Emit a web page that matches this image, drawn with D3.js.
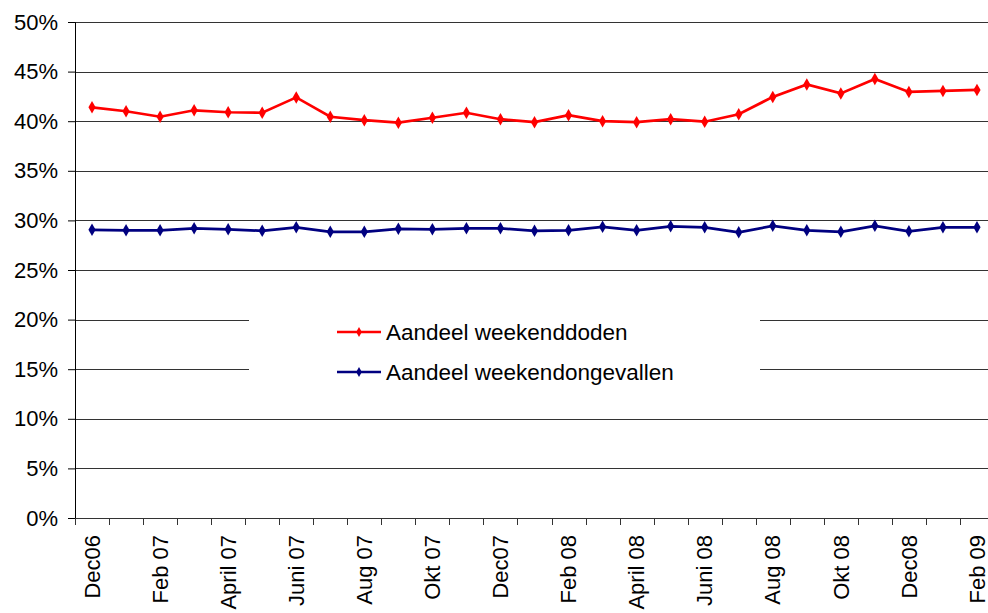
<html>
<head>
<title>Aandeel weekend</title>
<meta charset="utf-8">
<style type="text/css">
* {
  margin: 0;
  padding: 0;
}
body {
  background: #fff;
  font-family: "Liberation Sans", Arial, sans-serif;
}
text {
  fill: #000;
}
</style>
<script type="text/javascript" src="https://cdn.jsdelivr.net/npm/d3@7"></script>
<script type="text/javascript">
// months, Dec 2006 - Feb 2009 (label shown every other month)
var months = ["Dec06", "Jan 07", "Feb 07", "Mrt 07", "April 07", "Mei 07", "Juni 07", "Juli 07",
  "Aug 07", "Sep 07", "Okt 07", "Nov 07", "Dec07", "Jan 08", "Feb 08", "Mrt 08", "April 08",
  "Mei 08", "Juni 08", "Juli 08", "Aug 08", "Sep 08", "Okt 08", "Nov 08", "Dec08", "Jan 09", "Feb 09"];

// share of weekend deaths, %
var weekendDoden = [41.4, 41.0, 40.45, 41.1, 40.9, 40.85, 42.4, 40.45, 40.1, 39.85, 40.35, 40.85,
  40.2, 39.9, 40.6, 40.0, 39.9, 40.2, 39.95, 40.7, 42.45, 43.7, 42.8, 44.25, 42.95, 43.05, 43.15];

// share of weekend accidents, %
var weekendOngevallen = [29.05, 29.0, 29.0, 29.2, 29.1, 28.95, 29.3, 28.85, 28.85, 29.15, 29.1, 29.2,
  29.2, 28.95, 29.0, 29.35, 29.0, 29.4, 29.3, 28.8, 29.45, 29.0, 28.85, 29.45, 28.9, 29.3, 29.3];

var yTicks = [0, 5, 10, 15, 20, 25, 30, 35, 40, 45, 50];

var seriesNames = ["Aandeel weekenddoden", "Aandeel weekendongevallen"];
var seriesColors = ["#ff0000", "#000080"];

window.onload = function() {
  var width = 988, height = 613;
  var left = 75, right = 994, top = 22, bottom = 518;

  var svg = d3.select("#chart")
    .append("svg")
    .attr("width", width)
    .attr("height", height);

  var x = d3.scaleBand().domain(months).range([left, right]);
  var y = d3.scaleLinear().domain([0, 50]).range([bottom, top]);

  // gridlines
  svg.append("g")
    .selectAll("line")
    .data(yTicks.filter(function(t) { return t > 0; }))
    .enter().append("line")
    .attr("x1", left).attr("x2", right)
    .attr("y1", function(d) { return Math.round(y(d)) + 0.5; })
    .attr("y2", function(d) { return Math.round(y(d)) + 0.5; })
    .attr("stroke", "#333")
    .attr("stroke-width", 1);

  // legend box hides part of the gridlines
  svg.append("rect")
    .attr("x", 249).attr("y", 300)
    .attr("width", 511).attr("height", 100)
    .attr("fill", "#fff");

  // y axis
  var yAxis = svg.append("g")
    .attr("transform", "translate(" + left + ",0)")
    .call(d3.axisLeft(y).tickValues(yTicks).tickSize(7).tickPadding(10)
      .tickFormat(function(d) { return d + "%"; }));
  yAxis.selectAll("text")
    .style("font-size", "22px")
    .style("font-family", "'Liberation Sans', Arial, sans-serif");

  // x axis: ticks between categories
  var xAxisG = svg.append("g");
  xAxisG.append("line")
    .attr("x1", left).attr("x2", right)
    .attr("y1", bottom + 0.5).attr("y2", bottom + 0.5)
    .attr("stroke", "#333");
  xAxisG.selectAll("line.tick")
    .data(months)
    .enter().append("line")
    .attr("class", "tick")
    .attr("x1", function(d) { return Math.round(x(d)) + 0.5; })
    .attr("x2", function(d) { return Math.round(x(d)) + 0.5; })
    .attr("y1", bottom).attr("y2", bottom + 7)
    .attr("stroke", "#333");
  xAxisG.selectAll("text")
    .data(months.filter(function(d, i) { return i % 2 == 0; }))
    .enter().append("text")
    .attr("transform", function(d) {
      return "translate(" + (x(d) + x.bandwidth() / 2) + "," + (bottom + 17) + ") rotate(-90)";
    })
    .attr("dy", "0.35em")
    .attr("text-anchor", "end")
    .style("font-size", "22px")
    .text(function(d) { return d; });

  // series
  var line = d3.line()
    .x(function(d, i) { return x(months[i]) + x.bandwidth() / 2; })
    .y(function(d) { return y(d); });
  var diamond = d3.symbol().type(d3.symbolDiamond).size(45);

  [weekendOngevallen, weekendDoden].forEach(function(values, k) {
    var color = k == 0 ? seriesColors[1] : seriesColors[0];
    var g = svg.append("g");
    g.append("path")
      .datum(values)
      .attr("d", line)
      .attr("fill", "none")
      .attr("stroke", color)
      .attr("stroke-width", 2.7);
    g.selectAll("path.pt")
      .data(values)
      .enter().append("path")
      .attr("class", "pt")
      .attr("transform", function(d, i) {
        return "translate(" + (x(months[i]) + x.bandwidth() / 2) + "," + y(d) + ")";
      })
      .attr("d", diamond)
      .attr("fill", color);
  });

  // legend
  seriesNames.forEach(function(name, i) {
    var ly = 332 + i * 40;
    var g = svg.append("g");
    g.append("line")
      .attr("x1", 337).attr("x2", 381)
      .attr("y1", ly).attr("y2", ly)
      .attr("stroke", seriesColors[i])
      .attr("stroke-width", 2.5);
    g.append("path")
      .attr("transform", "translate(359," + ly + ")")
      .attr("d", d3.symbol().type(d3.symbolDiamond).size(28))
      .attr("fill", seriesColors[i]);
    g.append("text")
      .attr("x", 386).attr("y", ly)
      .attr("dy", "0.35em")
      .style("font-size", "22.5px")
      .text(name);
  });
}
</script>
</head>
<body>
  <div id="chart"></div>
</body>
</html>
